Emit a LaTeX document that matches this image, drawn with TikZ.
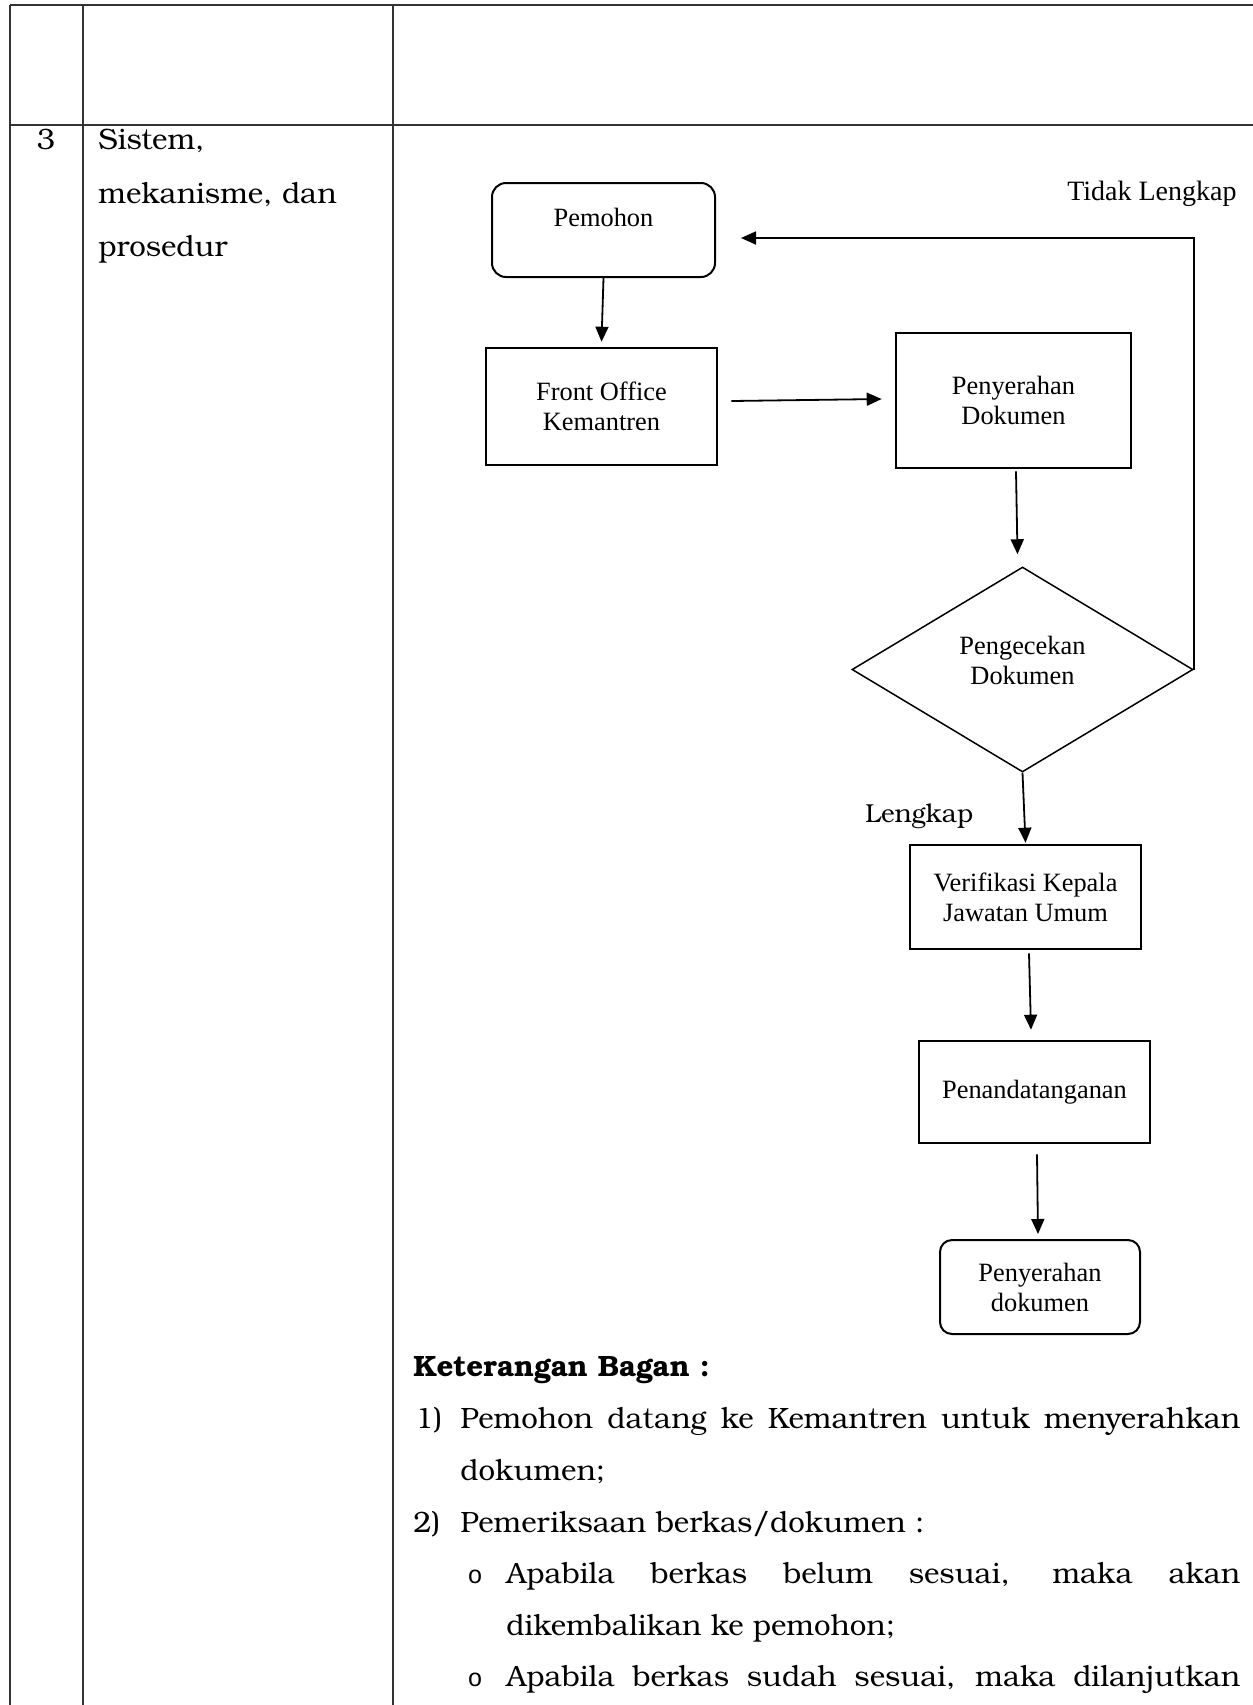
\documentclass[tikz,border=0pt]{standalone}
\usepackage{fontspec}
\setmainfont{TeX Gyre Bonum}
\newfontfamily\flowfont{Liberation Serif}
\newfontfamily\bulletfont{Liberation Mono}
\usetikzlibrary{shapes.geometric,arrows.meta}

\begin{document}
\begin{tikzpicture}[x=0.5pt,y=-0.5pt,
  rule/.style={line width=1pt, draw=black!80},
  flowfnt/.style={font=\flowfont\fontsize{13.2}{15}\selectfont},
  procbox/.style={draw, line width=1.3pt, rectangle, inner sep=0pt, align=center, flowfnt},
  termbox/.style={draw, line width=1pt, rectangle, rounded corners=7pt, inner sep=0pt, align=center, flowfnt},
  decision/.style={draw, diamond, line width=0.75pt, inner sep=0pt, aspect=1},
  flowtext/.style={flowfnt, align=center, inner sep=0pt},
  arrow/.style={line width=0.9pt, -{Triangle[length=7.5pt,width=6.5pt]}},
  body/.style={font=\fontsize{14.7}{17}\selectfont, inner sep=0pt, anchor=base west},
  bulletmark/.style={font=\bulletfont\fontsize{12.5}{15}\selectfont, inner sep=0pt, anchor=base},
]
\useasboundingbox (0,0) rectangle (1253,1705);

% table rules
\draw[rule] (10,5) -- (1253,5);
\draw[rule] (10,125) -- (1253,125);
\draw[rule] (10,5) -- (10,1705);
\draw[rule] (83,5) -- (83,1705);
\draw[rule] (393,5) -- (393,1705);

% left columns
\node[body, anchor=base] (num) at (46,149) {3};
\node[body] (c1) at (98,149) {Sistem,};
\node[body] (c2) at (98,203) {mekanisme, dan};
\node[body] (c3) at (98,256) {prosedur};

% flowchart
\node[termbox, minimum width=111.5pt, minimum height=47pt] (pem) at (603.5,230) {};
\node[flowtext] (pemtext) at ([yshift=6.5pt]pem.center) {Pemohon};
\node[procbox, minimum width=115.5pt, minimum height=58.5pt] (fo) at (601.5,406.5) {Front Office\\Kemantren};
\node[procbox, minimum width=117.5pt, minimum height=67.5pt] (pd) at (1013.5,400.5) {Penyerahan\\Dokumen};
\node[decision, minimum width=170.5pt, minimum height=102.5pt] (dia) at (1022.5,669.5) {};
\node[flowtext] (diatext) at ([yshift=4.75pt]dia.center) {Pengecekan\\Dokumen};
\node[procbox, minimum width=115.5pt, minimum height=52pt] (ver) at (1025.5,897) {Verifikasi Kepala\\Jawatan Umum};
\node[procbox, minimum width=115.5pt, minimum height=51pt] (pen) at (1034.5,1092) {Penandatanganan};
\node[termbox, rounded corners=6pt, minimum width=100pt, minimum height=47pt] (fin) at (1040,1287) {Penyerahan\\dokumen};

\node[font=\flowfont\fontsize{14}{16}\selectfont, inner sep=0pt, anchor=base east] (tl) at (1237,200) {Tidak Lengkap};
\node[font=\fontsize{13}{15}\selectfont, inner sep=0pt, anchor=base west] (lk) at (865,822) {Lengkap};

% connectors
\draw[arrow] (pem.south) -- ([yshift=2.5pt]fo.north);
\draw[arrow] ([xshift=6.5pt,yshift=2.75pt]fo.east) -- ([xshift=-6.5pt,yshift=0.75pt]pd.west);
\draw[arrow] ([xshift=1.25pt,yshift=-1pt]pd.south) -- ([xshift=-2.5pt,yshift=6pt]dia.north);
\draw[arrow] (dia.south) -- ([yshift=0.5pt]ver.north);
\draw[arrow] ([xshift=1.75pt,yshift=-1.5pt]ver.south) -- ([xshift=-1.75pt,yshift=5pt]pen.north);
\draw[arrow] ([xshift=1.25pt,yshift=-5pt]pen.south) -- ([xshift=-1pt,yshift=2.5pt]fin.north);
\coordinate (rettip) at ([xshift=12.5pt,yshift=-4pt]pem.east);
\draw[arrow] (dia.east) |- (rettip);

% legend
\node[body, font={\fontsize{14.7}{17}\selectfont\bfseries}] (ket) at (413,1376) {Keterangan Bagan :};
\node[body] (n1) at (415,1428) {1)};
\node[body] (l1) at (460,1428) {\makebox[390pt][s]{Pemohon datang ke Kemantren untuk menyerahkan}};
\node[body] (l2) at (460,1480) {dokumen;};
\node[body] (n2) at (413,1532) {2)};
\node[body] (l3) at (460,1532) {Pemeriksaan berkas/dokumen :};
\node[bulletmark] (b1) at (475,1583) {o};
\node[body] (l4) at (506,1583) {\makebox[367pt][s]{Apabila berkas belum sesuai, maka akan}};
\node[body] (l5) at (506,1635) {dikembalikan ke pemohon;};
\node[bulletmark] (b2) at (475,1686) {o};
\node[body] (l6) at (506,1686) {\makebox[367pt][s]{Apabila berkas sudah sesuai, maka dilanjutkan}};
\end{tikzpicture}
\end{document}
